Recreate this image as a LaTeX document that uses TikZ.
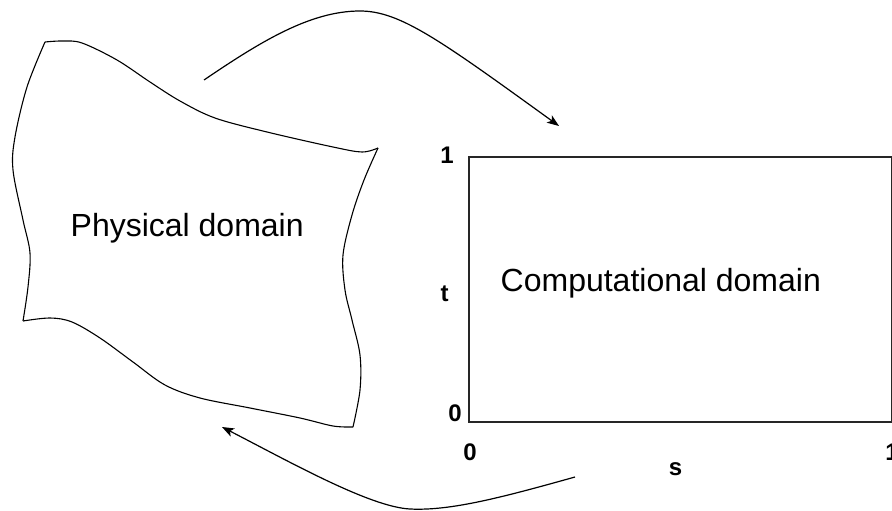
\documentclass[tikz,border=0pt]{standalone}
\usepackage{fontspec}
\setmainfont{Liberation Sans}
\usetikzlibrary{arrows.meta}
\tikzset{
  edgeline/.style={line width=1.1pt, black},
  boxline/.style={line width=1.5pt, black!85},
  maparrow/.style={line width=1.2pt, black, -{Stealth[length=12pt,width=9pt,inset=3pt]}},
  bigtext/.style={inner sep=0pt, font=\fontsize{32}{37}\selectfont},
  axistext/.style={inner sep=0pt, anchor=base, font=\fontsize{24}{28}\selectfont\bfseries}
}
\begin{document}
\begin{tikzpicture}[x=1pt,y=-1pt]
\useasboundingbox (0,0) rectangle (892,511);
\clip (0,0) rectangle (892,511);
\fill[white] (0,0) rectangle (892,511);
% physical domain corners
\coordinate (pTL) at (45,42);
\coordinate (pTR) at (378,148);
\coordinate (pBR) at (353,427);
\coordinate (pBL) at (23,321);
\draw[edgeline] plot[smooth,tension=0.55] coordinates {(pTL) (62,41) (82,43) (117,60) (150,82) (180,101) (215,118) (267,132) (333,147) (362,152) (pTR)};
\draw[edgeline] plot[smooth,tension=0.55] coordinates {(pTR) (364,180) (352,215) (343,255) (345,290) (352,320) (360,355) (360,390) (pBR)};
\draw[edgeline] plot[smooth,tension=0.55] coordinates {(pBL) (50,318) (72,322) (100,338) (133,362) (165,385) (200,398) (250,408) (300,418) (333,426) (pBR)};
\draw[edgeline] plot[smooth,tension=0.55] coordinates {(pTL) (27,87) (15,137) (13,170) (23,220) (30,253) (28,287) (pBL)};
\node[bigtext, anchor=base west] (phys) at (70.5,236) {Physical domain};
% computational domain
\draw[boxline] (469,157) rectangle (891.5,422);
\node[bigtext, anchor=base west] (comp) at (500.5,291.5) {Computational domain};
\node[axistext] (t1) at (447,163) {1};
\node[axistext] (tt) at (444.5,301) {t};
\node[axistext] (t0) at (455,421.5) {0};
\node[axistext] (s0) at (470,460) {0};
\node[axistext] (ss) at (675.5,475) {s};
\node[axistext] (s1) at (892,460) {1};
% mapping arrows
\coordinate (a1s) at (204,80);
\coordinate (a1m) at (360,11);
\coordinate (a1e) at (559,126);
\coordinate (a2s) at (575,477);
\coordinate (a2m) at (410,509);
\coordinate (a2e) at (222,427);
\draw[maparrow] (a1s) .. controls (260,42) and (310,11) .. (a1m) .. controls (400,11) and (440,40) .. (a1e);
\draw[maparrow] (a2s) .. controls (500,498) and (450,511) .. (a2m) .. controls (370,507) and (290,462) .. (a2e);
\end{tikzpicture}
\end{document}
